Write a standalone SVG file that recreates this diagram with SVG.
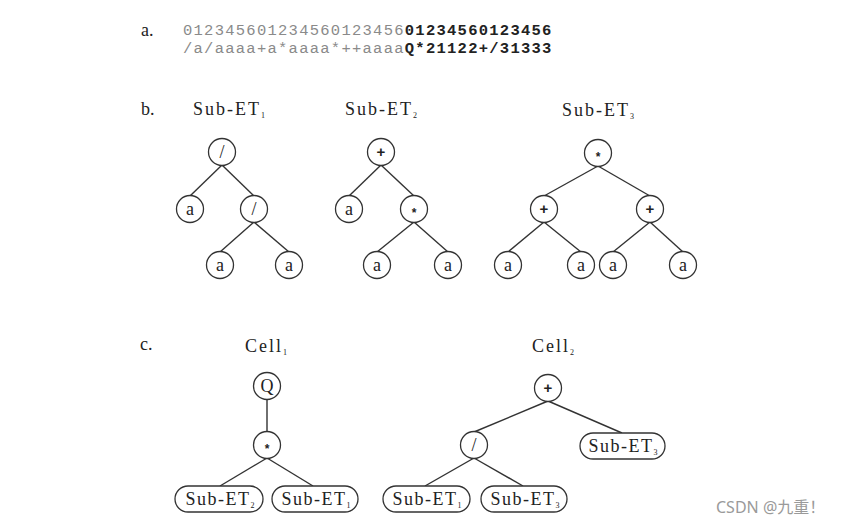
<svg xmlns="http://www.w3.org/2000/svg" width="854" height="525" viewBox="0 0 854 525">
<style>
.bg{fill:#fff}
.n{fill:#fff;stroke:#333;stroke-width:1.3}
.e line{stroke:#333;stroke-width:1.4}
.t{font-family:"Liberation Serif",serif;font-size:18px;fill:#222}
.nl{font-family:"Liberation Serif",serif;font-size:18px;fill:#222;text-anchor:middle}
.op{font-family:"Liberation Sans",sans-serif;font-size:15px;fill:#222;text-anchor:middle;font-weight:bold}
.ttl{font-family:"Liberation Serif",serif;font-size:18px;fill:#222;letter-spacing:2px}
.pl{font-family:"Liberation Serif",serif;font-size:18px;fill:#222;letter-spacing:1.5px;text-anchor:middle}
.sub{font-size:8px;letter-spacing:0}
.mono{font-family:"Liberation Mono",monospace;font-size:15.5px;letter-spacing:1.26px}
.g{fill:#8a8a8a}
.b{fill:#222;font-weight:bold}
.wm{font-family:"Noto Sans","Noto Sans CJK SC",sans-serif;font-size:16px;fill:#9a9a9a}
</style>
<rect class="bg" width="854" height="525"/>
<g id="seq">
<text class="t" x="141" y="36">a.</text>
<text class="mono" x="183" y="35"><tspan class="g">012345601234560123456</tspan><tspan class="b">01234560123456</tspan></text>
<text class="mono" x="183" y="53"><tspan class="g">/a/aaaa+a*aaaa*++aaaa</tspan><tspan class="b">Q*21122+/31333</tspan></text>
</g>
<g id="labels">
<text class="t" x="141" y="115">b.</text>
<text class="t" x="140" y="350">c.</text>
<text class="ttl" x="193" y="115">Sub-ET<tspan class="sub" dy="3">1</tspan></text>
<text class="ttl" x="345" y="115">Sub-ET<tspan class="sub" dy="3">2</tspan></text>
<text class="ttl" x="562" y="116">Sub-ET<tspan class="sub" dy="3">3</tspan></text>
<text class="ttl" x="245" y="352">Cell<tspan class="sub" dy="3">1</tspan></text>
<text class="ttl" x="532" y="352">Cell<tspan class="sub" dy="3">2</tspan></text>
</g>
<g class="e" id="connectors">
<line x1="222" y1="165" x2="190" y2="196"/>
<line x1="222" y1="165" x2="254" y2="196"/>
<line x1="254" y1="222" x2="220" y2="252"/>
<line x1="254" y1="222" x2="289" y2="252"/>
<line x1="381" y1="165" x2="349" y2="196"/>
<line x1="381" y1="165" x2="414" y2="196"/>
<line x1="414" y1="222" x2="377" y2="252"/>
<line x1="414" y1="222" x2="448" y2="252"/>
<line x1="598" y1="166" x2="544" y2="196"/>
<line x1="598" y1="166" x2="650" y2="196"/>
<line x1="544" y1="222" x2="508" y2="252"/>
<line x1="544" y1="222" x2="581" y2="252"/>
<line x1="650" y1="222" x2="613" y2="252"/>
<line x1="650" y1="222" x2="683" y2="252"/>
<line x1="267" y1="399" x2="267" y2="432"/>
<line x1="267" y1="458" x2="220" y2="486"/>
<line x1="267" y1="458" x2="313" y2="486"/>
<line x1="548" y1="401" x2="474" y2="432"/>
<line x1="548" y1="401" x2="622" y2="433"/>
<line x1="474" y1="458" x2="425" y2="486"/>
<line x1="474" y1="458" x2="523" y2="486"/>
</g>
<g id="et1">
<g id="et1-root"><circle class="n" cx="222" cy="152" r="13.5"/><text class="nl" x="222" y="158">/</text></g>
<g id="et1-a1"><circle class="n" cx="190" cy="209" r="13.5"/><text class="nl" x="190" y="215">a</text></g>
<g id="et1-div"><circle class="n" cx="254" cy="209" r="13.5"/><text class="nl" x="254" y="215">/</text></g>
<g id="et1-a2"><circle class="n" cx="220" cy="265" r="13.5"/><text class="nl" x="220" y="271">a</text></g>
<g id="et1-a3"><circle class="n" cx="289" cy="265" r="13.5"/><text class="nl" x="289" y="271">a</text></g>
</g>
<g id="et2">
<g id="et2-root"><circle class="n" cx="381" cy="152" r="13.5"/><text class="op" x="381" y="157">+</text></g>
<g id="et2-a1"><circle class="n" cx="349" cy="209" r="13.5"/><text class="nl" x="349" y="215">a</text></g>
<g id="et2-mul"><circle class="n" cx="414" cy="209" r="13.5"/><text class="op" x="414" y="217" style="font-size:12px">*</text></g>
<g id="et2-a2"><circle class="n" cx="377" cy="265" r="13.5"/><text class="nl" x="377" y="271">a</text></g>
<g id="et2-a3"><circle class="n" cx="448" cy="265" r="13.5"/><text class="nl" x="448" y="271">a</text></g>
</g>
<g id="et3">
<g id="et3-root"><circle class="n" cx="598" cy="153" r="13.5"/><text class="op" x="598" y="161" style="font-size:12px">*</text></g>
<g id="et3-p1"><circle class="n" cx="544" cy="209" r="13.5"/><text class="op" x="544" y="214">+</text></g>
<g id="et3-p2"><circle class="n" cx="650" cy="209" r="13.5"/><text class="op" x="650" y="214">+</text></g>
<g id="et3-a1"><circle class="n" cx="508" cy="265" r="13.5"/><text class="nl" x="508" y="271">a</text></g>
<g id="et3-a2"><circle class="n" cx="581" cy="265" r="13.5"/><text class="nl" x="581" y="271">a</text></g>
<g id="et3-a3"><circle class="n" cx="613" cy="265" r="13.5"/><text class="nl" x="613" y="271">a</text></g>
<g id="et3-a4"><circle class="n" cx="683" cy="265" r="13.5"/><text class="nl" x="683" y="271">a</text></g>
</g>
<g id="cell1">
<g id="c1-q"><circle class="n" cx="267" cy="386" r="13.5"/><text class="nl" x="267" y="392">Q</text></g>
<g id="c1-mul"><circle class="n" cx="267" cy="445" r="13.5"/><text class="op" x="267" y="453" style="font-size:12px">*</text></g>
<g id="c1-et2"><rect class="n" x="175" y="486" width="88" height="26" rx="13"/><text class="pl" x="220" y="505">Sub-ET<tspan class="sub" dy="3">2</tspan></text></g>
<g id="c1-et1"><rect class="n" x="272" y="486" width="86" height="26" rx="13"/><text class="pl" x="316" y="505">Sub-ET<tspan class="sub" dy="3">1</tspan></text></g>
</g>
<g id="cell2">
<g id="c2-plus"><circle class="n" cx="548" cy="388" r="13.5"/><text class="op" x="548" y="393">+</text></g>
<g id="c2-div"><circle class="n" cx="474" cy="445" r="13.5"/><text class="nl" x="474" y="451">/</text></g>
<g id="c2-et3r"><rect class="n" x="580" y="433" width="85" height="26" rx="13"/><text class="pl" x="623" y="452">Sub-ET<tspan class="sub" dy="3">3</tspan></text></g>
<g id="c2-et1"><rect class="n" x="383" y="486" width="87" height="26" rx="13"/><text class="pl" x="427" y="505">Sub-ET<tspan class="sub" dy="3">1</tspan></text></g>
<g id="c2-et3"><rect class="n" x="481" y="486" width="86" height="26" rx="13"/><text class="pl" x="525" y="505">Sub-ET<tspan class="sub" dy="3">3</tspan></text></g>
</g>
<text class="wm" x="716" y="513">CSDN @九重！</text>
</svg>
